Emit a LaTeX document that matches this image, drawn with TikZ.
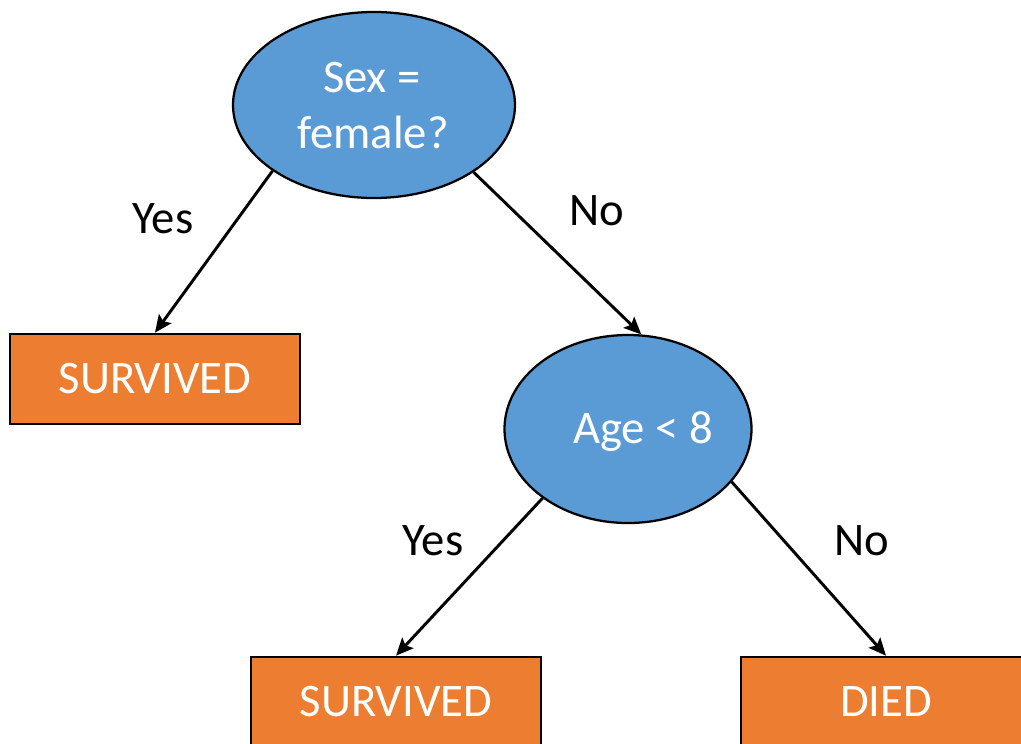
\documentclass[tikz,border=0pt]{standalone}
\usepackage{fontspec}
\setmainfont{Carlito}
\usetikzlibrary{shapes.geometric,arrows.meta}
\definecolor{nodeblue}{HTML}{5B9BD5}
\definecolor{leaforange}{HTML}{ED7D31}
\newcommand{\bigfont}{\fontsize{35}{42}\selectfont}
\begin{document}
\begin{tikzpicture}[x=0.75pt,y=-0.75pt,
  decision/.style={ellipse, draw=black, line width=1.7pt, fill=nodeblue, inner sep=0pt},
  leaf/.style={rectangle, draw=black, line width=2pt, fill=leaforange, minimum width=217.5pt, minimum height=67.5pt, inner sep=0pt, text=white, font=\bigfont},
  intext/.style={text=white, font=\bigfont, anchor=base, inner sep=0pt},
  edgelabel/.style={text=black, font=\bigfont, anchor=base, inner sep=0pt},
  arr/.style={-{Stealth[length=13pt,width=11.5pt,inset=2.5pt]}, line width=2.2pt}]
\useasboundingbox (0,0) rectangle (1021,743);
\clip (0,0) rectangle (1021,743);
% decision nodes
\node[decision, minimum width=211.5pt, minimum height=139.5pt] (sex) at (374,105) {};
\node[intext] (sexa) at (372,92) {Sex =};
\node[intext] (sexb) at (373,148) {female?};
\node[decision, minimum width=185.25pt, minimum height=141pt] (age) at (628,429) {};
\node[intext] (agetxt) at (643,443) {Age < 8};
% leaves
\node[leaf] (s1) at (155,379) {SURVIVED};
\node[leaf] (s2) at (396,702) {SURVIVED};
\node[leaf] (died) at (886,702) {DIED};
% connectors
\draw[arr] (sex.213) -- (s1.north);
\draw[arr] (sex.-34.5) -- (age.82.6);
\draw[arr] (age.219) -- (s2.north);
\draw[arr] (age.-27) -- (died.north);
% edge labels
\node[edgelabel] (l1) at (163,233) {Yes};
\node[edgelabel] (l2) at (597,225) {No};
\node[edgelabel] (l3) at (433,555) {Yes};
\node[edgelabel] (l4) at (862,555) {No};
\end{tikzpicture}
\end{document}
